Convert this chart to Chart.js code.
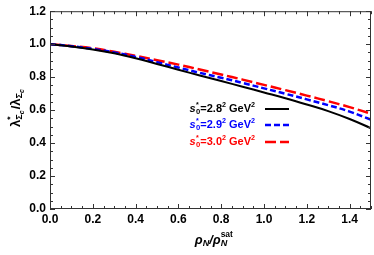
<!DOCTYPE html>
<html>
<head>
  <meta charset="UTF-8">
  <title>Sigma_c coupling ratio</title>
  <script src="https://cdn.jsdelivr.net/npm/chart.js"></script>
  <style>
    body { margin: 0; background: #fff; }
    #wrap { width: 374px; height: 255px; }
  </style>
</head>
<body>
  <div id="wrap"><canvas id="c" width="374" height="255"></canvas></div>
  <script>
    // density ratio rho_N / rho_N^sat
    const rho = [0, 0.1, 0.2, 0.3, 0.4, 0.5, 0.6, 0.7, 0.8, 0.9, 1.0, 1.1, 1.2, 1.3, 1.4, 1.5];
    // lambda* / lambda for the three thresholds
    const s28 = [1.0, 0.986, 0.968, 0.945, 0.915, 0.88, 0.845, 0.81, 0.776, 0.742, 0.707, 0.672, 0.634, 0.594, 0.546, 0.49];
    const s29 = [1.0, 0.988, 0.971, 0.95, 0.923, 0.891, 0.858, 0.826, 0.796, 0.765, 0.732, 0.699, 0.665, 0.63, 0.591, 0.542];
    const s30 = [1.0, 0.989, 0.975, 0.954, 0.929, 0.903, 0.876, 0.846, 0.816, 0.785, 0.753, 0.721, 0.688, 0.654, 0.618, 0.578];
    const legendBases = ['2.8', '2.9', '3.0'];
    const xTicks = [0, 0.2, 0.4, 0.6, 0.8, 1.0, 1.2, 1.4];
    const yTicks = [0, 0.2, 0.4, 0.6, 0.8, 1.0, 1.2];

    const colors = ['#000000', '#0000ff', '#ff0000'];
    const dashes = [[], [6, 3], [11, 4]];

    function mk(label, data, i) {
      return {
        label: label,
        data: data.map((v, k) => ({ x: rho[k], y: v })),
        borderColor: colors[i],
        borderWidth: i === 0 ? 2 : 2.5,
        borderDash: dashes[i],
        pointRadius: 0,
        tension: 0.4,
        fill: false
      };
    }

    // draw a run of pieces: {t, k: n|sup|sub|subsub, i: italic, gap, stay}
    function rich(ctx, parts, x, y, size, align) {
      const fam = 'Arial, "Liberation Sans", sans-serif';
      const cfg = p => {
        const s = p.k || 'n';
        if (s === 'sup') return { sz: size * 0.65, dy: -size * 0.38 };
        if (s === 'sub') return { sz: size * 0.7, dy: size * 0.3 };
        if (s === 'subsub') return { sz: size * 0.55, dy: size * 0.5 };
        return { sz: size, dy: 0 };
      };
      let total = 0;
      parts.forEach(p => {
        const c = cfg(p);
        ctx.font = (p.i ? 'italic ' : '') + 'bold ' + c.sz + 'px ' + fam;
        p.w = p.stay ? 0 : ctx.measureText(p.t).width + (p.gap || 0);
        total += p.w;
      });
      let cx = align === 'right' ? x - total : align === 'center' ? x - total / 2 : x;
      parts.forEach(p => {
        const c = cfg(p);
        ctx.font = (p.i ? 'italic ' : '') + 'bold ' + c.sz + 'px ' + fam;
        ctx.fillText(p.t, cx, y + c.dy);
        cx += p.w;
      });
    }

    const framePlugin = {
      id: 'frame',
      afterDatasetsDraw(chart) {
        const ctx = chart.ctx, a = chart.chartArea;
        const xs = chart.scales.x, ys = chart.scales.y;
        ctx.save();
        ctx.strokeStyle = '#333';
        ctx.lineWidth = 1;
        ctx.strokeRect(a.left + 0.5, a.top + 0.5, a.right - a.left - 1, a.bottom - a.top - 1);
        ctx.beginPath();
        for (let v = 0; v <= 1.5001; v += 0.05) {
          const px = Math.round(xs.getPixelForValue(v)) + 0.5;
          const major = Math.abs(v / 0.2 - Math.round(v / 0.2)) < 1e-6;
          const len = major ? 5 : 3;
          ctx.moveTo(px, a.bottom); ctx.lineTo(px, a.bottom - len);
          ctx.moveTo(px, a.top); ctx.lineTo(px, a.top + len);
        }
        for (let v = 0; v <= 1.2001; v += 0.05) {
          const py = Math.round(ys.getPixelForValue(v)) + 0.5;
          const major = Math.abs(v / 0.2 - Math.round(v / 0.2)) < 1e-6;
          const len = major ? 5 : 3;
          ctx.moveTo(a.left, py); ctx.lineTo(a.left + len, py);
          ctx.moveTo(a.right, py); ctx.lineTo(a.right - len, py);
        }
        ctx.stroke();

        // legend
        ctx.textBaseline = 'middle';
        const rowY = [109, 125, 142];
        chart.data.datasets.forEach((ds, i) => {
          ctx.fillStyle = colors[i];
          rich(ctx, [
            { t: 's', i: true, gap: 0.5 },
            { t: '*', k: 'sup', stay: true },
            { t: '0', k: 'sub' },
            { t: '=' + legendBases[i] },
            { t: '2', k: 'sup', gap: 3 },
            { t: 'GeV' },
            { t: '2', k: 'sup' }
          ], 255, rowY[i], 11, 'right');
          ctx.strokeStyle = colors[i];
          ctx.lineWidth = ds.borderWidth;
          ctx.setLineDash(dashes[i]);
          ctx.beginPath();
          ctx.moveTo(265, rowY[i]); ctx.lineTo(289, rowY[i]);
          ctx.stroke();
          ctx.setLineDash([]);
        });

        // axis titles
        ctx.fillStyle = '#000';
        rich(ctx, [
          { t: 'ρ', i: true }, { t: 'N', i: true, k: 'sub' },
          { t: '/', i: true },
          { t: 'ρ', i: true }, { t: 'sat', k: 'sup', stay: true }, { t: 'N', i: true, k: 'sub' }, { t: 'sat', k: 'sup', t2: true }
        ].filter(p => !p.t2), 211, 240, 13, 'center');

        ctx.save();
        ctx.translate(16, 108);
        ctx.rotate(-Math.PI / 2);
        rich(ctx, [
          { t: 'λ' }, { t: '*', k: 'sup', stay: true }, { t: 'Σ', k: 'sub' }, { t: 'c', i: true, k: 'subsub', gap: 1 },
          { t: '/λ' }, { t: 'Σ', k: 'sub' }, { t: 'c', i: true, k: 'subsub' }
        ], 0, 0, 13, 'center');
        ctx.restore();
        ctx.restore();
      }
    };

    new Chart(document.getElementById('c').getContext('2d'), {
      type: 'line',
      data: {
        datasets: [
          mk('s0=2.8^2', s28, 0),
          mk('s0=2.9^2', s29, 1),
          mk('s0=3.0^2', s30, 2)
        ]
      },
      options: {
        responsive: false,
        animation: false,
        layout: { padding: { top: 10, right: 3, left: 0, bottom: 0 } },
        plugins: { legend: { display: false }, tooltip: { enabled: false } },
        scales: {
          x: {
            type: 'linear',
            min: 0, max: 1.5,
            afterBuildTicks: s => { s.ticks = xTicks.map(v => ({ value: v })); },
            afterFit: s => { s.height = 46; },
            grid: { display: false, drawTicks: false },
            border: { display: false },
            ticks: {
              color: '#000', padding: 3, maxRotation: 0,
              font: { family: 'Arial', size: 12, weight: 'bold' },
              callback: v => v.toFixed(1)
            }
          },
          y: {
            min: 0, max: 1.2,
            afterBuildTicks: s => { s.ticks = yTicks.map(v => ({ value: v })); },
            afterFit: s => { s.width = 50; },
            grid: { display: false, drawTicks: false },
            border: { display: false },
            ticks: {
              color: '#000', padding: 4,
              font: { family: 'Arial', size: 12, weight: 'bold' },
              callback: v => v.toFixed(1)
            }
          }
        }
      },
      plugins: [framePlugin]
    });
  </script>
</body>
</html>
